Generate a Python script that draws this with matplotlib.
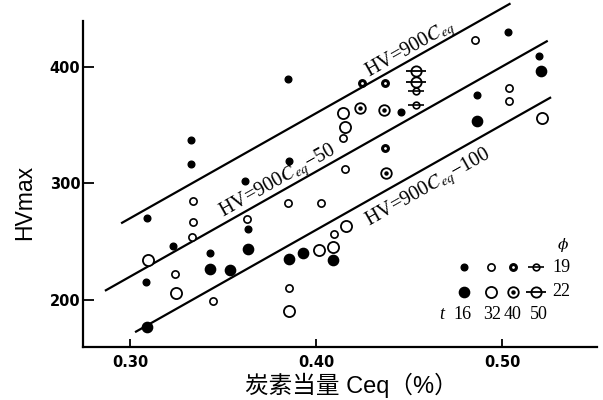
import numpy as np
import matplotlib
matplotlib.use("Agg")
import matplotlib.pyplot as plt

plt.rcParams['mathtext.fontset'] = 'stix'

# ---------------- data (Ceq %, HVmax) ----------------
t16_phi19_c = [0.385, 0.333, 0.333, 0.362, 0.3857, 0.4457, 0.5034, 0.520, 0.4866,
               0.3093, 0.3233, 0.3086, 0.3633, 0.343]
t16_phi19_hv = [389.4, 336.8, 316.3, 302, 319.4, 361.4, 429.3, 409, 376,
                270.5, 246.3, 215.7, 260.6, 240]

t16_phi22_c = [0.5208, 0.4864, 0.3093, 0.3633, 0.343, 0.3538, 0.3857, 0.3932, 0.4093]
t16_phi22_hv = [396.5, 353.7, 177, 243.4, 226.3, 225.7, 235.1, 240.5, 234.3]

t32_phi19_c = [0.4147, 0.4156, 0.3851, 0.4025, 0.4855, 0.5038, 0.5038, 0.3337, 0.3337,
               0.3332, 0.3242, 0.3627, 0.3445, 0.4098, 0.3855]
t32_phi19_hv = [338.6, 312, 282.9, 283.4, 422.3, 382, 370.5, 285, 267,
                253.7, 222.3, 269, 199.4, 256.3, 210]

t32_phi22_c = [0.4147, 0.4156, 0.5213, 0.3095, 0.3247, 0.4018, 0.4093, 0.416, 0.3857]
t32_phi22_hv = [360, 348.5, 355.7, 234.3, 205.7, 242.8, 245.7, 263.4, 190.6]

t40_phi19_c = [0.4249, 0.437, 0.437]
t40_phi19_hv = [385.7, 386.3, 330]

t40_phi22_c = [0.4237, 0.4367, 0.4376]
t40_phi22_hv = [364.2, 362.8, 308.6]

t50_phi22_c = [0.4538, 0.4538]
t50_phi22_hv = [396.5, 387.1]

t50_phi19_c = [0.4538, 0.4538]
t50_phi19_hv = [379.4, 367.1]

# reference lines HV = 900*Ceq + offset, with their Ceq extents
line_offsets = [0, -50, -100]
line_c_start = [0.2957, 0.287, 0.3032]
line_c_end = [0.504, 0.524, 0.5258]
line_labels = [r"HV=900$C_{eq}$", r"HV=900$C_{eq}$−50", r"HV=900$C_{eq}$−100"]
label_c = [0.4505, 0.3796, 0.4602]
label_dhv = [9.0, 9.5, -18.0]

x_ticks = [0.30, 0.40, 0.50]
x_ticklabels = ["0.30", "0.40", "0.50"]
y_ticks = [200, 300, 400]

legend_t = ["16", "32", "40", "50"]
legend_phi = ["19", "22"]

# ---------------- figure ----------------
fig = plt.figure(figsize=(6.03, 4.0), dpi=100)
ax = fig.add_axes([83/603, 1-347/400, 514/603, 326/400])
ax.set_xlim(0.2747, 0.551)
ax.set_ylim(159.7, 439)

for s in ['top', 'right']:
    ax.spines[s].set_visible(False)
for s in ['left', 'bottom']:
    ax.spines[s].set_linewidth(1.6)

ax.set_xticks(x_ticks)
ax.set_xticklabels(x_ticklabels)
ax.set_yticks(y_ticks)
ax.tick_params(axis='x', direction='in', length=6, width=1.3, pad=6, labelsize=10.5)
ax.tick_params(axis='y', direction='in', length=8, width=1.3, pad=2, labelsize=10.5)
for lab in ax.get_xticklabels() + ax.get_yticklabels():
    lab.set_fontweight('bold')
    lab.set_family('DejaVu Sans')

ax.set_ylabel("HVmax", family='Liberation Sans', fontsize=16.5, va='center')
ax.yaxis.set_label_coords(-0.113, 0.442)
ax.set_xlabel("炭素当量 Ceq（%）", family=['Liberation Sans', 'Noto Sans CJK SC'],
              fontsize=17, va='center')
ax.xaxis.set_label_coords(0.522, -0.119)

# reference lines
for off, c0, c1 in zip(line_offsets, line_c_start, line_c_end):
    cs = np.array([c0, c1])
    ax.plot(cs, 900*cs + off, color='black', lw=1.6, clip_on=False, zorder=2)

# line labels, rotated along the lines
p0 = ax.transData.transform((0.30, 270))
p1 = ax.transData.transform((0.50, 450))
angle = np.degrees(np.arctan2(p1[1]-p0[1], p1[0]-p0[0]))
for lab, c, d, off in zip(line_labels, label_c, label_dhv, line_offsets):
    ax.text(c, 900*c + off + d, lab, rotation=angle, rotation_mode='anchor',
            ha='center', va='center', family='Liberation Serif', fontsize=14.5)

# ---------------- data points ----------------
K = 'black'
ax.plot(t16_phi19_c, t16_phi19_hv, 'o', ms=4.8, color=K, zorder=3)
ax.plot(t16_phi22_c, t16_phi22_hv, 'o', ms=7.4, color=K, zorder=3)
ax.plot(t32_phi19_c, t32_phi19_hv, 'o', ms=5.2, mfc='white', mec=K, mew=1.2, zorder=3)
ax.plot(t32_phi22_c, t32_phi22_hv, 'o', ms=8.0, mfc='white', mec=K, mew=1.3, zorder=3)
ax.plot(t40_phi19_c, t40_phi19_hv, 'o', ms=5.4, color=K, zorder=3)
ax.plot(t40_phi19_c, t40_phi19_hv, 'o', ms=1.0, color='white', zorder=4)
ax.plot(t40_phi22_c, t40_phi22_hv, 'o', ms=7.6, mfc='white', mec=K, mew=1.3, zorder=3)
ax.plot(t40_phi22_c, t40_phi22_hv, 'o', ms=2.2, color=K, zorder=4)
ax.plot(t50_phi22_c, t50_phi22_hv, 'o', ms=7.4, mfc='white', mec=K, mew=1.3, zorder=3)
ax.plot(t50_phi22_c, t50_phi22_hv, '_', ms=15, mec=K, mew=1.3, zorder=4)
ax.plot(t50_phi19_c, t50_phi19_hv, 'o', ms=4.8, mfc='white', mec=K, mew=1.2, zorder=3)
ax.plot(t50_phi19_c, t50_phi19_hv, '_', ms=12, mec=K, mew=1.2, zorder=4)

# ---------------- in-plot key (thickness t x diameter phi) ----------------
tr = ax.transAxes
kx = [0.742, 0.794, 0.8375, 0.882]
ky = [0.2445, 0.170]
# row phi 19
ax.plot([kx[0]], [ky[0]], 'o', ms=4.8, color=K, transform=tr)
ax.plot([kx[1]], [ky[0]], 'o', ms=5.2, mfc='white', mec=K, mew=1.2, transform=tr)
ax.plot([kx[2]], [ky[0]], 'o', ms=5.4, color=K, transform=tr)
ax.plot([kx[2]], [ky[0]], 'o', ms=1.0, color='white', transform=tr)
ax.plot([kx[3]], [ky[0]], 'o', ms=4.8, mfc='white', mec=K, mew=1.2, transform=tr)
ax.plot([kx[3]], [ky[0]], '_', ms=12, mec=K, mew=1.2, transform=tr)
# row phi 22
ax.plot([kx[0]], [ky[1]], 'o', ms=7.4, color=K, transform=tr)
ax.plot([kx[1]], [ky[1]], 'o', ms=8.0, mfc='white', mec=K, mew=1.3, transform=tr)
ax.plot([kx[2]], [ky[1]], 'o', ms=7.6, mfc='white', mec=K, mew=1.3, transform=tr)
ax.plot([kx[2]], [ky[1]], 'o', ms=2.2, color=K, transform=tr)
ax.plot([kx[3]], [ky[1]], 'o', ms=7.4, mfc='white', mec=K, mew=1.3, transform=tr)
ax.plot([kx[3]], [ky[1]], '_', ms=15, mec=K, mew=1.3, transform=tr)

serif = 'Liberation Serif'
ax.text(0.934, 0.313, "ϕ", transform=tr, ha='center', va='center',
        family=['DejaVu Serif'], style='italic', fontsize=11)
for lab, y in zip(legend_phi, ky):
    ax.text(0.930, y, lab, transform=tr, ha='center', va='center',
            family=serif, fontsize=13)
ax.text(0.698, 0.101, "t", transform=tr, ha='center', va='center',
        family=serif, style='italic', fontsize=13)
for lab, x in zip(legend_t, [0.739, 0.795, 0.836, 0.886]):
    ax.text(x, 0.101, lab, transform=tr, ha='center', va='center',
            family=serif, fontsize=13)

fig.savefig("out.png", dpi=100)
